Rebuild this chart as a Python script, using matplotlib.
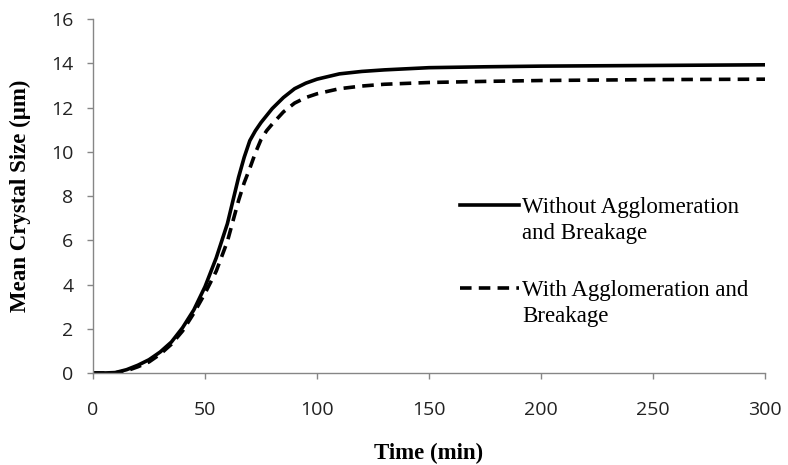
import matplotlib
matplotlib.use("Agg")
import matplotlib.pyplot as plt
from matplotlib.lines import Line2D

# time (min) and mean crystal size (um)
t_without = [0, 5, 10, 15, 20, 25, 30, 35, 40, 45, 50, 55, 60, 62.5, 65, 67.5,
             70, 72.5, 75, 80, 85, 90, 95, 100, 110, 120, 130, 150, 175, 200,
             250, 300]
size_without = [0, 0, 0.02, 0.15, 0.35, 0.6, 0.95, 1.4, 2.05, 2.85, 3.9, 5.2,
                6.75, 7.8, 8.85, 9.75, 10.5, 10.95, 11.32, 11.95, 12.45, 12.85,
                13.1, 13.28, 13.52, 13.63, 13.7, 13.8, 13.84, 13.87, 13.9, 13.93]

t_with = [0, 5, 10, 15, 20, 25, 30, 35, 40, 45, 50, 55, 60, 65, 67.5, 70,
          72.5, 75, 77.5, 80, 85, 90, 95, 100, 110, 120, 130, 150, 175, 200,
          250, 300]
size_with = [0, 0, 0.01, 0.1, 0.28, 0.5, 0.85, 1.3, 1.9, 2.7, 3.6, 4.6, 5.95,
             7.8, 8.6, 9.25, 9.95, 10.55, 10.95, 11.25, 11.8, 12.2, 12.45,
             12.62, 12.85, 12.97, 13.05, 13.13, 13.18, 13.22, 13.26, 13.28]

x_ticks = [0, 50, 100, 150, 200, 250, 300]
y_ticks = [0, 2, 4, 6, 8, 10, 12, 14, 16]

dash = (0, (3.2, 2.0))

fig = plt.figure(figsize=(7.88, 4.65), dpi=100)
ax = fig.add_axes([93 / 788, 1 - 373 / 465, 672 / 788, 354 / 465])

ax.plot(t_without, size_without, color="black", lw=2.6)
ax.plot(t_with, size_with, color="black", lw=2.6, linestyle=dash)

ax.set_xlim(0, 300)
ax.set_ylim(0, 16)
ax.set_xticks(x_ticks)
ax.set_yticks(y_ticks)

for s in ["top", "right"]:
    ax.spines[s].set_visible(False)
for s in ["left", "bottom"]:
    ax.spines[s].set_color("#868686")
    ax.spines[s].set_linewidth(1.0)

ax.tick_params(axis="both", direction="out", length=4, width=1.0, color="#868686",
               labelcolor="#222222")
ax.tick_params(axis="x", pad=16)
ax.tick_params(axis="y", pad=10)
for lab in ax.get_xticklabels() + ax.get_yticklabels():
    lab.set_fontfamily("Open Sans")
    lab.set_fontsize(14)

label_font = {"family": "Liberation Serif", "weight": "bold", "size": 16.5}
ax.set_xlabel("Time (min)", fontdict=label_font, va="center")
ax.set_ylabel("Mean Crystal Size (\u03bcm)", fontdict=label_font, va="center")
ax.xaxis.set_label_coords(0.5, -0.226)
ax.yaxis.set_label_coords(-0.108, 0.5)

# legend: each label split over two rows, handle on the first row
blank = Line2D([], [], linestyle="none")
handles = [Line2D([], [], color="black", lw=2.6), blank, blank,
           Line2D([], [], color="black", lw=2.6, linestyle=dash), blank]
labels = ["Without Agglomeration", "and Breakage", " ",
          "With Agglomeration and", "Breakage"]
leg = ax.legend(handles, labels, loc="upper left", bbox_to_anchor=(0.546, 0.497),
                frameon=False, borderpad=0, borderaxespad=0, handlelength=2.6,
                handletextpad=0.12, labelspacing=0.22,
                prop={"family": "Liberation Serif", "size": 16.5})
leg.get_texts()[2].set_fontsize(21)

fig.savefig("out.png", dpi=100)
